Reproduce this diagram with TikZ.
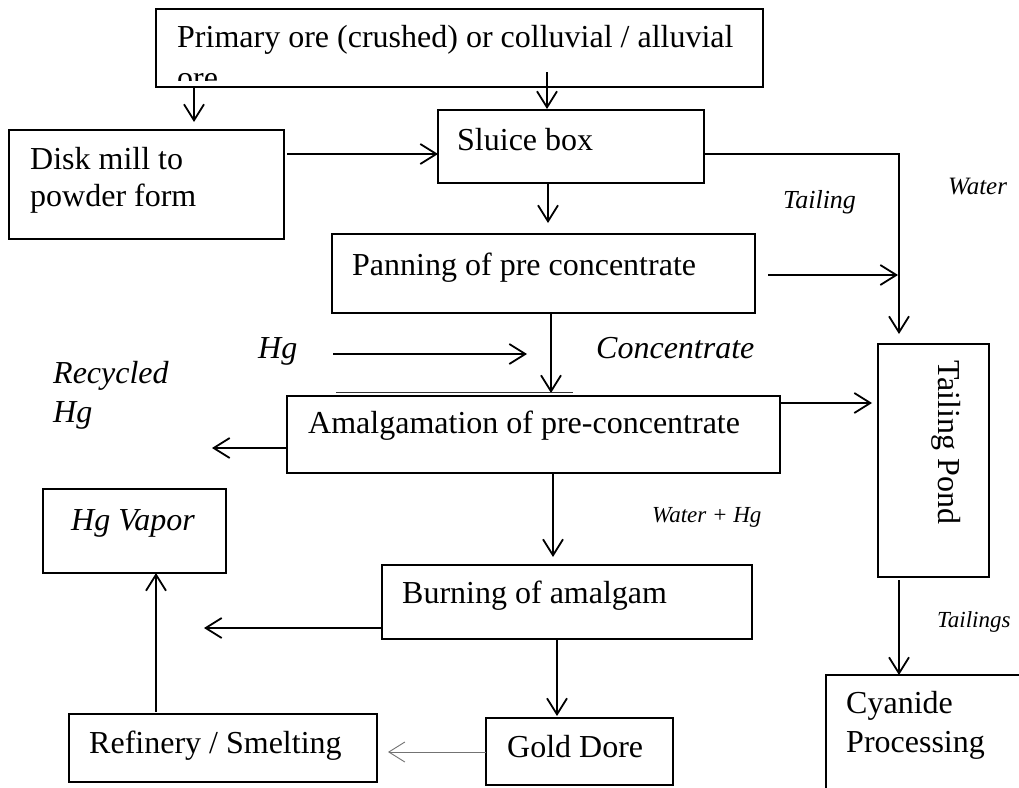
\documentclass[tikz,border=0pt]{standalone}
\usepackage{fontspec}
\setmainfont{Liberation Serif}
\usetikzlibrary{arrows.meta}
\begin{document}
\begin{tikzpicture}[x=1pt,y=-1pt,
  box/.style={draw, line width=1.4pt, anchor=north west, inner sep=0pt, outer sep=0pt},
  txt/.style={anchor=base west, inner sep=0pt, font=\fontsize{32}{38}\selectfont},
  itxt/.style={anchor=base west, inner sep=0pt, font=\fontsize{32}{38}\selectfont\itshape},
  stxt/.style={anchor=base west, inner sep=0pt, font=\fontsize{#1}{#1}\selectfont\itshape},
  conn/.style={line width=1.8pt, -{Straight Barb[length=16pt,width=20pt,line width=1.8pt]}},
  thinconn/.style={line width=0.9pt, draw=black!55, -{Straight Barb[length=16pt,width=20pt,line width=0.9pt]}},
  stray/.style={line width=0.9pt, draw=black!80}]
\useasboundingbox (0,0) rectangle (1019,787);
\clip (0,0) rectangle (1019,787);
\fill[white] (0,0) rectangle (1019,787);

% boxes
\node[box, minimum width=607pt, minimum height=78pt] (prim) at (156,9) {};
\node[box, minimum width=275pt, minimum height=109pt] (disk) at (9,130) {};
\node[box, minimum width=266pt, minimum height=73pt] (sluice) at (438,110) {};
\node[box, minimum width=423pt, minimum height=79pt] (pan) at (332,234) {};
\node[box, minimum width=493pt, minimum height=77pt] (amal) at (287,396) {};
\node[box, minimum width=111pt, minimum height=233pt] (pond) at (878,344) {};
\node[box, minimum width=183pt, minimum height=84pt] (vapor) at (43,489) {};
\node[box, minimum width=370pt, minimum height=74pt] (burn) at (382,565) {};
\node[box, minimum width=308pt, minimum height=68pt] (refin) at (69,714) {};
\node[box, minimum width=187pt, minimum height=67pt] (gold) at (486,718) {};
\node[box, minimum width=260pt, minimum height=160pt] (cyan) at (826,675) {};

% box texts
\node[txt] (primt) at (177,47) {Primary ore (crushed) or colluvial / alluvial};
\begin{scope}
  \clip (156,9) rectangle (763,80);
  \node[txt] (primt2) at (177,88) {ore};
\end{scope}
\node[txt] (diskt1) at (30,169) {Disk mill to};
\node[txt] (diskt2) at (30,206) {powder form};
\node[txt] (sluicet) at (457,150) {Sluice box};
\node[txt] (pant) at (352,275) {Panning of pre concentrate};
\node[txt] (amalt) at (308,433) {Amalgamation of pre-concentrate};
\node[txt] (burnt) at (402,603) {Burning of amalgam};
\node[txt] (refint) at (89,753) {Refinery / Smelting};
\node[txt] (goldt) at (507,757) {Gold Dore};
\node[txt] (cyant1) at (846,713) {Cyanide};
\node[txt] (cyant2) at (846,752) {Processing};
\node[itxt] (vaport) at (71,530) {Hg Vapor};
\node[inner sep=0pt, rotate=-90, font=\fontsize{32}{38}\selectfont] (pondt) at (946,442) {Tailing Pond};

% labels
\node[itxt] (hg) at (258,358) {Hg};
\node[itxt] (conc) at (596,358) {Concentrate};
\node[itxt] (recyc1) at (53,383) {Recycled};
\node[itxt] (recyc2) at (53,422) {Hg};
\node[stxt=26] (tail) at (783,208) {Tailing};
\node[stxt=25] (water) at (948,194) {Water};
\node[stxt=23] (waterhg) at (652,522) {Water + Hg};
\node[stxt=23] (tailings) at (937,627) {Tailings};

% helper coordinates
\coordinate (xa) at (194,0);
\coordinate (xb) at (547,0);
\coordinate (xc) at (548,0);
\coordinate (xd) at (551,0);
\coordinate (xg) at (553,0);
\coordinate (xh) at (557,0);
\coordinate (xi) at (156,0);
\coordinate (xp) at (899,0);
\coordinate (ya) at (0,154);
\coordinate (yb) at (0,275);
\coordinate (yd) at (0,403);
\coordinate (ye) at (0,448);
\coordinate (yf) at (0,628);
\coordinate (yg) at (0,752);
\coordinate (hgs) at (333,354);
\coordinate (hge) at (527,354);
\coordinate (rechg) at (212,448);
\coordinate (vapin) at (204,628);
\coordinate (sa) at (336,392);
\coordinate (sb) at (573,392);

% connectors
\draw[conn] (prim.south -| xa) -- ([yshift=8pt]disk.north -| xa);
\draw[conn] ([yshift=15pt]prim.south -| xb) -- ([yshift=1pt]sluice.north -| xb);
\draw[conn] ([xshift=3pt]disk.east |- ya) -- (sluice.west |- ya);
\draw[conn] (sluice.east |- ya) -| ([yshift=10pt]pond.north -| xp);
\draw[conn] (sluice.south -| xc) -- ([yshift=11pt]pan.north -| xc);
\draw[conn] ([xshift=13pt]pan.east |- yb) -- ([xshift=-1pt]xp |- yb);
\draw[conn] (pan.south -| xd) -- ([yshift=3pt]amal.north -| xd);
\draw[conn] (hgs) -- (hge);
\draw[stray] (sa) -- (sb);
\draw[conn] (amal.east |- yd) -- ([xshift=-6pt]pond.west |- yd);
\draw[conn] (amal.west |- ye) -- (rechg);
\draw[conn] (amal.south -| xg) -- ([yshift=8pt]burn.north -| xg);
\draw[conn] (burn.west |- yf) -- (vapin);
\draw[conn] (burn.south -| xh) -- ([yshift=2pt]gold.north -| xh);
\draw[thinconn] (gold.west |- yg) -- ([xshift=11pt]refin.east |- yg);
\draw[conn] ([yshift=2pt]refin.north -| xi) -- (vapor.south -| xi);
\draw[conn] ([yshift=-3pt]pond.south -| xp) -- (cyan.north -| xp);
\end{tikzpicture}
\end{document}
